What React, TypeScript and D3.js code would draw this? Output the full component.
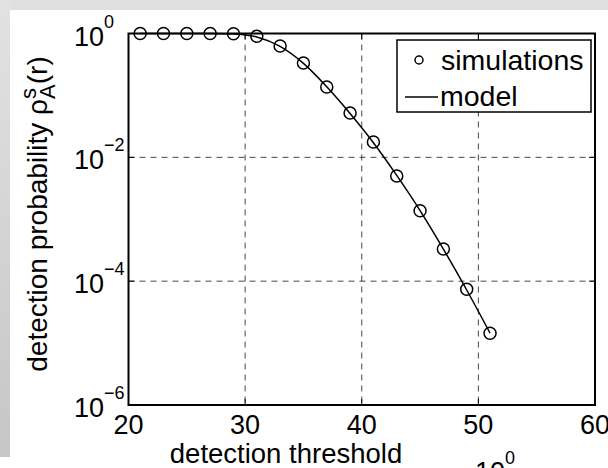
import React from 'react';
import * as d3 from 'd3';

const simX = [21, 23, 25, 27, 29, 31, 33, 35, 37, 39, 41, 43, 45, 47, 49, 51];
const simY = [1.0, 1.0, 1.0, 1.0, 0.99, 0.9, 0.63, 0.333, 0.137, 0.052, 0.0177, 0.005, 0.00137, 3.3e-4, 7.4e-5, 1.44e-5];
const modelX = [21, 23, 25, 27, 29, 31, 33, 35, 37, 39, 41, 43, 45, 47, 49, 51];
const modelY = [1.0, 1.0, 1.0, 1.0, 0.985, 0.88, 0.62, 0.33, 0.138, 0.051, 0.0172, 0.0051, 0.00138, 3.3e-4, 7.2e-5, 1.45e-5];
const xTicks = [20, 30, 40, 50, 60];
const yTickExps = [0, -2, -4, -6];
const xGrid = [30, 40, 50];
const yGrid = [1e-2, 1e-4];
const legendLabels = ['simulations', 'model'];
const xLabel = 'detection threshold';

const FONT = '"Liberation Sans", Arial, Helvetica, sans-serif';

export default function App() {
  const W = 608, H = 468;
  const m = { left: 128.5, right: 595, top: 33.5, bottom: 405 };
  const x = d3.scaleLinear().domain([20, 60]).range([m.left, m.right]);
  const y = d3.scaleLog().domain([1e-6, 1]).range([m.bottom, m.top]);
  const line = d3.line<[number, number]>()
    .x(d => x(d[0]))
    .y(d => y(d[1]))
    .curve(d3.curveMonotoneX);
  const modelPts: [number, number][] = modelX.map((v, i) => [v, modelY[i]]);
  const fmtExp = (e: number) => (e < 0 ? '\u2212' + Math.abs(e) : String(e));
  const tickLen = 6;

  return (
    <svg width={W} height={H} style={{ position: 'fixed', left: 0, top: 0 }} fontFamily={FONT}>
      <defs>
        <linearGradient id="strip" x1="0" y1="0" x2="0" y2="1">
          <stop offset="0" stopColor="#e2e2e2" />
          <stop offset="1" stopColor="#c6c6c6" />
        </linearGradient>
      </defs>
      <rect x={0} y={0} width={W} height={H} fill="#ffffff" />
      <rect x={0} y={0} width={W} height={10} fill="#e0e0e0" />
      <rect x={0} y={0} width={10} height={457} fill="url(#strip)" />

      {/* grid */}
      {xGrid.map(v => (
        <line key={'gx' + v} x1={x(v)} x2={x(v)} y1={m.top} y2={m.bottom}
          stroke="#333" strokeWidth={0.9} strokeDasharray="6,5" />
      ))}
      {yGrid.map(v => (
        <line key={'gy' + v} x1={m.left} x2={m.right} y1={y(v)} y2={y(v)}
          stroke="#333" strokeWidth={0.9} strokeDasharray="6,5" />
      ))}

      {/* ticks */}
      {xTicks.map(v => (
        <g key={'xt' + v}>
          <line x1={x(v)} x2={x(v)} y1={m.bottom} y2={m.bottom - tickLen} stroke="#000" strokeWidth={1} />
          <line x1={x(v)} x2={x(v)} y1={m.top} y2={m.top + tickLen} stroke="#000" strokeWidth={1} />
          <text x={x(v)} y={434} textAnchor="middle" fontSize={27} fill="#000">{v}</text>
        </g>
      ))}
      {yTickExps.map(e => {
        const yy = y(Math.pow(10, e));
        return (
          <g key={'yt' + e}>
            <line x1={m.left} x2={m.left + tickLen} y1={yy} y2={yy} stroke="#000" strokeWidth={1} />
            <line x1={m.right} x2={m.right - tickLen} y1={yy} y2={yy} stroke="#000" strokeWidth={1} />
            <text x={74} y={yy + 12} fontSize={27} fill="#000">
              10<tspan dy={-18} fontSize={18}>{fmtExp(e)}</tspan>
            </text>
          </g>
        );
      })}

      {/* model line */}
      <path d={line(modelPts) || ''} fill="none" stroke="#000" strokeWidth={1.5} />

      {/* simulation markers */}
      {simX.map((v, i) => (
        <circle key={'c' + i} cx={x(v)} cy={y(simY[i])} r={6} fill="none" stroke="#000" strokeWidth={1.5} />
      ))}

      {/* axes box */}
      <rect x={m.left} y={m.top} width={m.right - m.left} height={m.bottom - m.top}
        fill="none" stroke="#000" strokeWidth={2} />

      {/* legend */}
      <rect x={397} y={40} width={194} height={72} fill="#fff" stroke="#000" strokeWidth={1.5} />
      <circle cx={419} cy={60} r={4} fill="none" stroke="#000" strokeWidth={1.5} />
      <text x={441} y={70} fontSize={28.5} fill="#000">{legendLabels[0]}</text>
      <line x1={405} x2={438} y1={97} y2={97} stroke="#000" strokeWidth={1.5} />
      <text x={440} y={106} fontSize={28.5} fill="#000">{legendLabels[1]}</text>

      {/* x label */}
      <text x={286} y={463} textAnchor="middle" fontSize={27.5} fill="#000">{xLabel}</text>
      {/* stray 10^0 at bottom */}
      <text x={475} y={481} fontSize={27} fill="#000">
        10<tspan dy={-17} fontSize={18}>0</tspan>
      </text>

      {/* y label */}
      <text transform={`translate(47,214) rotate(-90)`} textAnchor="middle" fontSize={28} fill="#000">
        detection probability ρ
        <tspan dy={-11} fontSize={22}>s</tspan>
        <tspan dx={-11} dy={19} fontSize={22}>A</tspan>
        <tspan dy={-8}>(r)</tspan>
      </text>
    </svg>
  );
}
